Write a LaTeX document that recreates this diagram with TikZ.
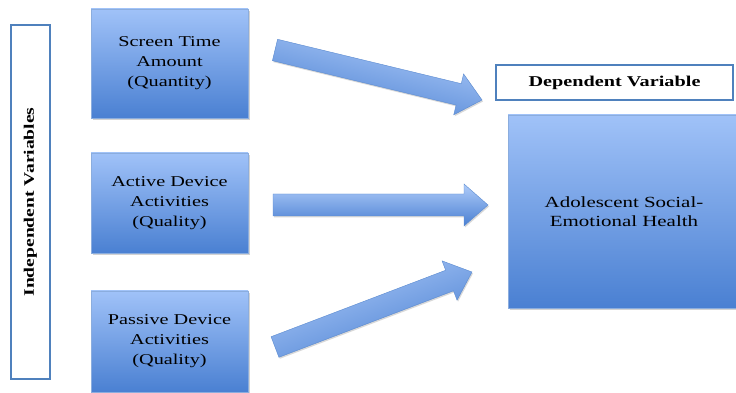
\documentclass[tikz,border=0pt]{standalone}
\usepackage{fontspec}
\setmainfont{Liberation Serif}[FakeStretch=1.35]
\usetikzlibrary{calc,shadows}
\definecolor{boxtop}{HTML}{A0C2F8}
\definecolor{boxbot}{HTML}{4A80D2}
\definecolor{edgeblue}{HTML}{4F81BD}
\definecolor{arrowedge}{HTML}{5A8AD0}
\tikzset{
  bluebox/.style={draw=arrowedge!70, line width=0.4pt, top color=boxtop, bottom color=boxbot,
    align=center, inner sep=0pt, font=\fontsize{15}{20}\selectfont,
    drop shadow={shadow xshift=1.5pt, shadow yshift=-2pt, opacity=0.35}},
  labelbox/.style={draw=edgeblue, line width=1.2pt, fill=white, inner sep=0pt,
    font=\bfseries\fontsize{15}{18}\selectfont},
  fatarrow/.style={draw=arrowedge, line width=0.4pt, top color=boxtop!85!white, bottom color=boxbot,
    drop shadow={shadow xshift=1pt, shadow yshift=-1.5pt, opacity=0.3}}
}
\newcommand{\fatarr}[3]{%
  \path[fatarrow, shading angle=#3]
    ($(#1)!11pt!90:(#2)$) --
    ($($(#2)!24pt!(#1)$)!11pt!-90:(#1)$) --
    ($($(#2)!24pt!(#1)$)!21pt!-90:(#1)$) --
    (#2) --
    ($($(#2)!24pt!(#1)$)!21pt!90:(#1)$) --
    ($($(#2)!24pt!(#1)$)!11pt!90:(#1)$) --
    ($(#1)!11pt!-90:(#2)$) -- cycle;}
\begin{document}
\begin{tikzpicture}[x=1pt,y=1pt]
\useasboundingbox (0,0) rectangle (736,393);
\clip (0,0) rectangle (736,393);
\fill[white] (0,0) rectangle (736,393);
% independent label
\node[labelbox, minimum width=39pt, minimum height=354pt] (indep) at (30.5,191) {};
\node[rotate=90, font=\bfseries\fontsize{14.5}{17}\selectfont] (indeptxt) at (indep.center) {Independent Variables};
% left boxes
\node[bluebox, minimum width=157pt, minimum height=109pt] (b1) at (169.5,329.5) {Screen Time\\Amount\\(Quantity)};
\node[bluebox, minimum width=157pt, minimum height=100pt] (b2) at (169.5,190) {Active Device\\Activities\\(Quality)};
\node[bluebox, minimum width=157pt, minimum height=101pt] (b3) at (169.5,51.5) {Passive Device\\Activities\\(Quality)};
% dependent
\node[labelbox, minimum width=237pt, minimum height=35pt] (dep) at (614.5,310.5) {Dependent Variable};
\node[bluebox, minimum width=232pt, minimum height=193pt, font=\fontsize{15.5}{19}\selectfont] (out) at (624,181.5) {Adolescent Social-\\Emotional Health};
% arrows
\coordinate (a1s) at (275,343);
\coordinate (a1e) at (482,293);
\coordinate (a2s) at (273,188);
\coordinate (a2e) at (488,188);
\coordinate (a3s) at (275,46);
\coordinate (a3e) at (472,121);
\fatarr{a1s}{a1e}{-13.6}
\fatarr{a2s}{a2e}{0}
\fatarr{a3s}{a3e}{20.8}
\end{tikzpicture}
\end{document}
